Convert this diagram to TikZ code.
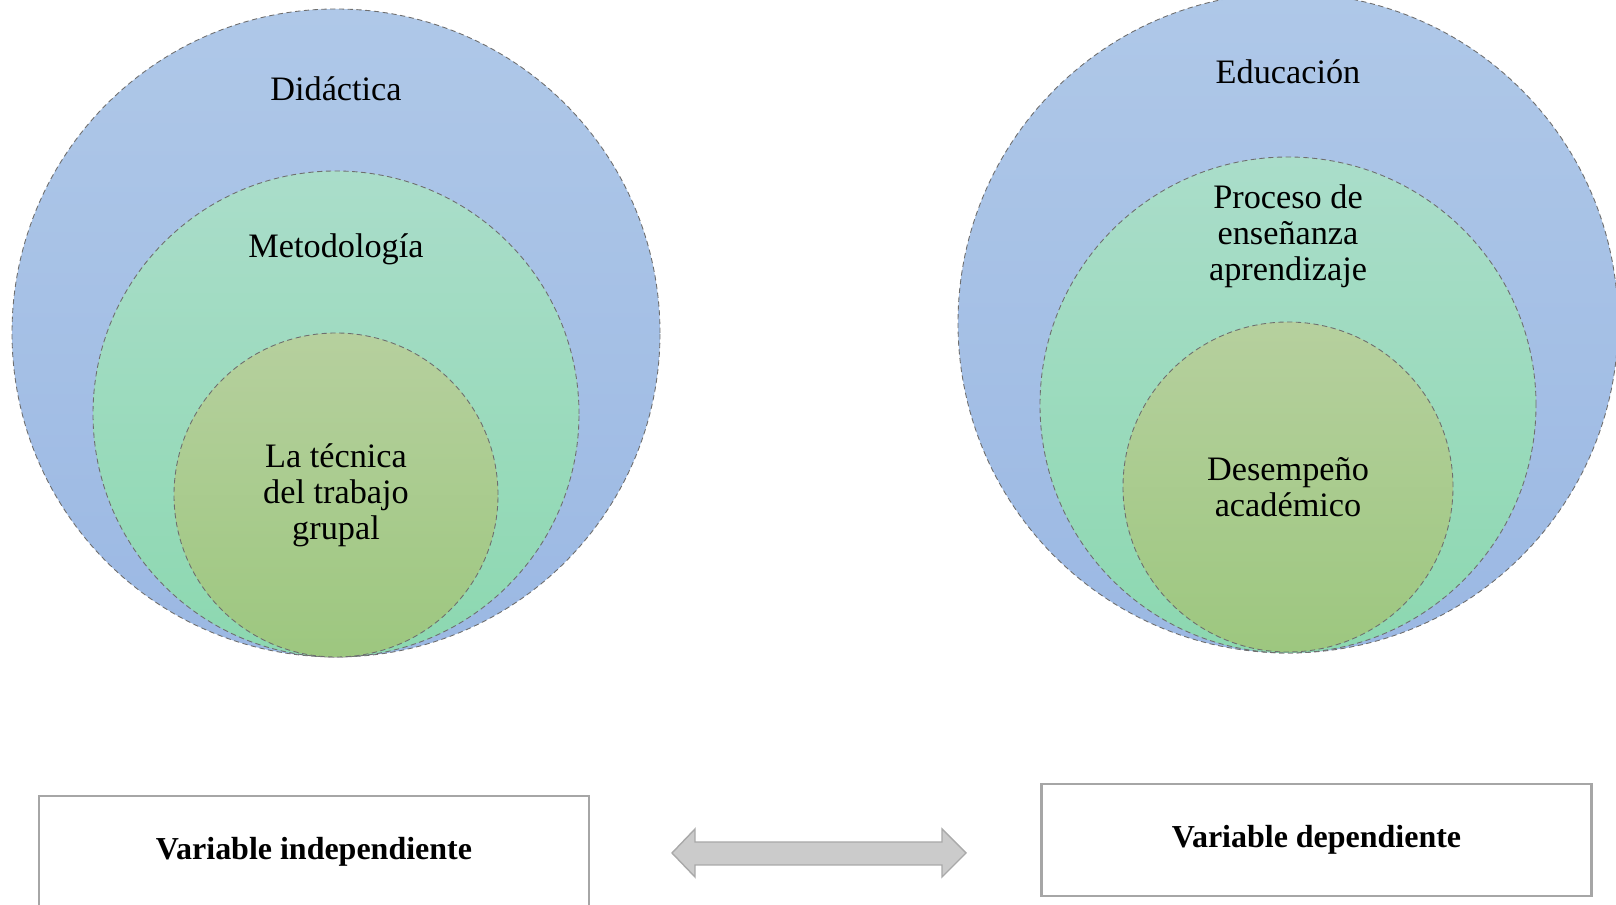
\documentclass[tikz,border=0pt]{standalone}
\usepackage{fontspec}
\setmainfont{Liberation Serif}
\usepackage{xcolor}
\definecolor{bluetop}{HTML}{AFC8E8}
\definecolor{bluebot}{HTML}{9BB8E3}
\definecolor{mintop}{HTML}{AADDCA}
\definecolor{minbot}{HTML}{8CD8B0}
\definecolor{leaftop}{HTML}{B6D09E}
\definecolor{leafbot}{HTML}{9DC77F}
\definecolor{rim}{HTML}{6E6E6E}
\definecolor{boxrim}{HTML}{A6A6A6}
\definecolor{arrowfill}{HTML}{CBCBCB}
\definecolor{arrowrim}{HTML}{A9A9A9}

\begin{document}
\begin{tikzpicture}[
  ring/.style={draw=rim,line width=0.5pt,densely dashed,circle,inner sep=0pt},
  outer/.style={ring,top color=bluetop,bottom color=bluebot},
  middle/.style={ring,top color=mintop,bottom color=minbot},
  inner/.style={ring,top color=leaftop,bottom color=leafbot,align=center,
    font=\fontsize{19.5}{20.5}\selectfont},
  lbl/.style={align=center,font=\fontsize{19.5}{20.5}\selectfont},
  varbox/.style={draw=boxrim,line width=1.2pt,fill=white,minimum width=11cm,
    minimum height=2.24cm,text depth=0.16cm,font=\fontsize{18.2}{20}\selectfont\bfseries}]
\useasboundingbox (0,0) rectangle (32.32,18.10);
\clip (0,0) rectangle (32.32,18.10);

% left circles
\draw (6.72,11.44) node[outer,minimum size=12.96cm](didactica) {};
\draw (6.72,9.82) node[middle,minimum size=9.72cm](metodologia) {};
\draw (6.72,8.20) node[inner,minimum size=6.48cm](tecnica) {La técnica\\del trabajo\\grupal};
\draw (6.72,16.32) node[lbl](tdidactica) {Didáctica};
\draw (6.72,13.12) node[lbl](tmetodologia) {Metodología};

% right circles
\draw (25.76,11.64) node[outer,minimum size=13.2cm](educacion) {};
\draw (25.76,10.00) node[middle,minimum size=9.92cm](proceso) {};
\draw (25.76,8.36) node[inner,minimum size=6.6cm](desempeno) {Desempeño\\académico};
\draw (25.76,16.66) node[lbl](teducacion) {Educación};
\draw (25.76,13.38) node[lbl](tproceso) {Proceso de\\enseñanza\\aprendizaje};

% variable boxes
\draw (6.28,1.06) node[varbox](indep) {Variable independiente};
\draw (26.33,1.30) node[varbox](dep) {Variable dependiente};

% double arrow
\draw[draw=arrowrim,fill=arrowfill,line width=0.8pt,line join=miter]
  (13.44,1.04) -- (13.90,1.52) -- (13.90,1.26) -- (18.84,1.26) -- (18.84,1.52)
  -- (19.32,1.04) -- (18.84,0.56) -- (18.84,0.80) -- (13.90,0.80) -- (13.90,0.56) -- cycle;
\end{tikzpicture}
\end{document}
